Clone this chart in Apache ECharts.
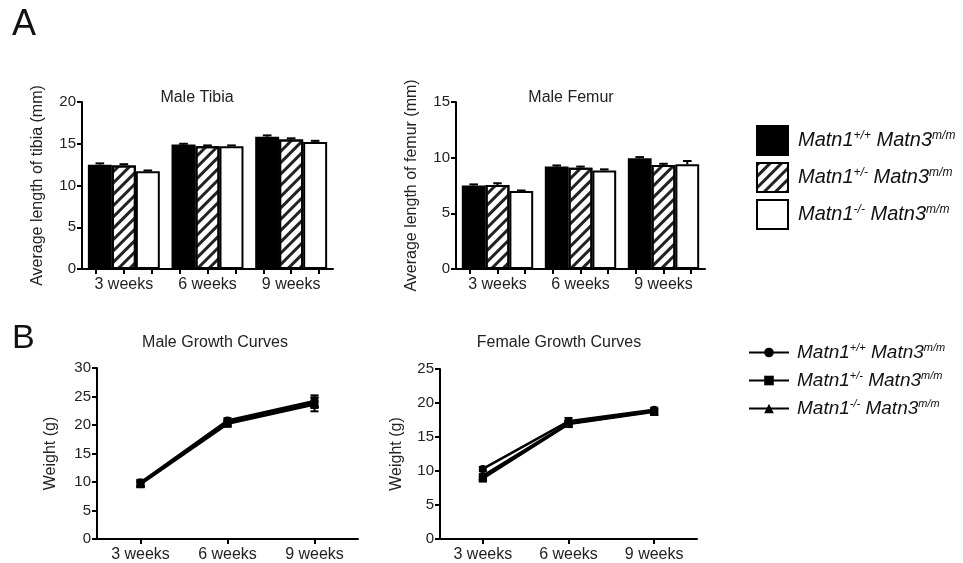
<!DOCTYPE html>
<html>
<head>
<meta charset="utf-8">
<script src="https://cdn.jsdelivr.net/npm/echarts@6/dist/echarts.min.js"></script>
<style>html,body{margin:0;padding:0;background:#fff}#c{width:963px;height:563px}</style>
</head>
<body>
<div id="c"></div>
<script>
// ---- data ----
var categories = ['3 weeks', '6 weeks', '9 weeks'];
var genotypes = ['+/+', '+/-', '-/-'];
var tibiaValues = [[12.5, 14.9, 15.85], [12.4, 14.7, 15.5], [11.7, 14.7, 15.2]];
var tibiaErrors = [[0.15, 0.1, 0.15], [0.15, 0.1, 0.15], [0.1, 0.1, 0.15]];
var femurValues = [[7.5, 9.2, 9.95], [7.55, 9.1, 9.35], [7.0, 8.85, 9.4]];
var femurErrors = [[0.1, 0.1, 0.1], [0.15, 0.1, 0.1], [0.05, 0.1, 0.3]];
var maleWeight = [[9.9, 20.8, 24.2], [9.6, 20.2, 23.6], [9.8, 20.5, 23.9]];
var maleErrors = [[0.5, 0.4, 1.0], [0.4, 0.4, 1.2], [0.5, 0.4, 0.9]];
var femaleWeight = [[10.3, 17.3, 19.0], [8.9, 16.9, 18.7], [9.3, 17.0, 18.8]];
var femaleErrors = [[0.3, 0.5, 0.3], [0.4, 0.4, 0.3], [0.3, 0.4, 0.3]];
var tibiaTicks = [0, 5, 10, 15, 20];
var femurTicks = [0, 5, 10, 15];
var maleTicks = [0, 5, 10, 15, 20, 25, 30];
var femaleTicks = [0, 5, 10, 15, 20, 25];

// ---- helpers ----
var FONT = 'Liberation Sans, Arial, sans-serif';
var GAP = 0.14;
function yAxis(grid, max, name, gap) {
  return {
    type: 'value', gridIndex: grid, min: 0, max: max, interval: 5,
    name: name, nameLocation: 'middle', nameGap: gap,
    nameTextStyle: { fontFamily: FONT, fontSize: 16, color: '#222' },
    axisLine: { show: true, lineStyle: { color: '#000', width: 2 } },
    axisTick: { show: true, length: 5, lineStyle: { color: '#000', width: 2 } },
    axisLabel: { fontFamily: FONT, fontSize: 15, color: '#222', margin: 6 },
    splitLine: { show: false }
  };
}
function xAxis(grid, ticks) {
  return {
    type: 'category', gridIndex: grid, data: categories,
    axisLine: { show: true, lineStyle: { color: '#000', width: 2 } },
    axisTick: { show: ticks, alignWithLabel: true, length: 5, lineStyle: { color: '#000', width: 2 } },
    axisLabel: { fontFamily: FONT, fontSize: 16, color: '#222', margin: 8 },
    splitLine: { show: false }
  };
}
function tickAxis(grid) {
  var d = [];
  for (var i = 0; i < categories.length * 3; i++) d.push(String(i));
  return {
    type: 'category', gridIndex: grid, data: d, position: 'bottom',
    axisLine: { show: false },
    axisTick: { show: true, alignWithLabel: true, length: 5, lineStyle: { color: '#000', width: 2 } },
    axisLabel: { show: false }, splitLine: { show: false }
  };
}
var barStyles = [
  { color: '#000', borderColor: '#000', borderWidth: 2 },
  { color: '#fff', borderColor: '#000', borderWidth: 2,
    decal: { symbol: 'rect', symbolSize: 1, dashArrayX: [1, 0], dashArrayY: [3, 5], rotation: -Math.PI / 4, color: '#222' } },
  { color: '#fff', borderColor: '#000', borderWidth: 2 }
];
var series = [];
function addBars(xi, yi, values, errors) {
  values.forEach(function (vals, k) {
    series.push({
      type: 'bar', name: 'A|' + genotypes[k], xAxisIndex: xi, yAxisIndex: yi,
      data: vals, barGap: '0%', barCategoryGap: (GAP * 100) + '%',
      itemStyle: barStyles[k], silent: true
    });
    var ed = vals.map(function (v, i) { return [i, v, errors[k][i]]; });
    series.push({
      type: 'custom', xAxisIndex: xi, yAxisIndex: yi, data: ed, silent: true, z: 1,
      renderItem: function (params, api) {
        var i = api.value(0), v = api.value(1), e = api.value(2);
        var catW = api.size([1, 0])[0];
        var bw = catW * (1 - GAP) / 3;
        var c0 = api.coord([i, v]);
        var c1 = api.coord([i, v + e]);
        var x = c0[0] + (k - 1) * bw;
        var cw = bw * 0.18;
        return { type: 'group', children: [
          { type: 'line', shape: { x1: x, y1: c0[1], x2: x, y2: c1[1] }, style: { stroke: '#000', lineWidth: 2 } },
          { type: 'line', shape: { x1: x - cw, y1: c1[1], x2: x + cw, y2: c1[1] }, style: { stroke: '#000', lineWidth: 2 } }
        ] };
      }
    });
  });
}
var lineSymbols = ['circle', 'rect', 'triangle'];
var lineSizes = [8, 8, 9];
function addLines(xi, yi, values, errors) {
  values.forEach(function (vals, k) {
    series.push({
      type: 'line', name: 'B|' + genotypes[k], xAxisIndex: xi, yAxisIndex: yi, data: vals,
      symbol: lineSymbols[k], symbolSize: lineSizes[k], showSymbol: true,
      lineStyle: { color: '#000', width: 2.5 }, itemStyle: { color: '#000' }, silent: true
    });
    var ed = vals.map(function (v, i) { return [i, v, errors[k][i]]; });
    series.push({
      type: 'custom', xAxisIndex: xi, yAxisIndex: yi, data: ed, silent: true,
      renderItem: function (params, api) {
        var i = api.value(0), v = api.value(1), e = api.value(2);
        var lo = api.coord([i, v - e]), hi = api.coord([i, v + e]);
        var cw = 4;
        return { type: 'group', children: [
          { type: 'line', shape: { x1: lo[0], y1: lo[1], x2: hi[0], y2: hi[1] }, style: { stroke: '#000', lineWidth: 2 } },
          { type: 'line', shape: { x1: hi[0] - cw, y1: hi[1], x2: hi[0] + cw, y2: hi[1] }, style: { stroke: '#000', lineWidth: 2 } },
          { type: 'line', shape: { x1: lo[0] - cw, y1: lo[1], x2: lo[0] + cw, y2: lo[1] }, style: { stroke: '#000', lineWidth: 2 } }
        ] };
      }
    });
  });
}
addBars(0, 0, tibiaValues, tibiaErrors);
addBars(2, 1, femurValues, femurErrors);
addLines(4, 2, maleWeight, maleErrors);
addLines(5, 3, femaleWeight, femaleErrors);

function legendFmt(name) {
  var g = name.split('|')[1];
  return '{m|Matn1}{s|' + g + '}{m| Matn3}{s|m/m}';
}
function rich(size) {
  var ss = Math.round(size * 0.6);
  return {
    m: { fontFamily: FONT, fontStyle: 'italic', fontSize: size, color: '#111', lineHeight: size + 2 },
    s: { fontFamily: FONT, fontStyle: 'italic', fontSize: ss, color: '#111', verticalAlign: 'top', lineHeight: ss + 1 }
  };
}
function titleAt(text, x, y, size) {
  return { text: text, left: x, top: y, textAlign: 'center', padding: 0,
    textStyle: { fontFamily: FONT, fontSize: size, fontWeight: 'normal', color: '#222' } };
}

var option = {
  animation: false,
  backgroundColor: '#fff',
  title: [
    { text: 'A', left: 12, top: 7, padding: 0, textStyle: { fontFamily: FONT, fontSize: 36, fontWeight: 'normal', color: '#111' } },
    { text: 'B', left: 12, top: 322, padding: 0, textStyle: { fontFamily: FONT, fontSize: 34, fontWeight: 'normal', color: '#111' } },
    titleAt('Male Tibia', 197, 90, 16),
    titleAt('Male Femur', 571, 90, 16),
    titleAt('Male Growth Curves', 215, 335, 16),
    titleAt('Female Growth Curves', 559, 335, 16)
  ],
  grid: [
    { left: 82, top: 102, width: 251, height: 167 },
    { left: 456, top: 102, width: 249, height: 167 },
    { left: 97, top: 368, width: 261, height: 172 },
    { left: 440, top: 369, width: 257, height: 170 }
  ],
  xAxis: [xAxis(0, false), tickAxis(0), xAxis(1, false), tickAxis(1), xAxis(2, true), xAxis(3, true)],
  yAxis: [
    yAxis(0, tibiaTicks[tibiaTicks.length - 1], 'Average length of tibia (mm)', 36),
    yAxis(1, femurTicks[femurTicks.length - 1], 'Average length of femur (mm)', 36),
    yAxis(2, maleTicks[maleTicks.length - 1], 'Weight (g)', 38),
    yAxis(3, femaleTicks[femaleTicks.length - 1], 'Weight (g)', 35)
  ],
  legend: [
    { data: genotypes.map(function (g) { return 'A|' + g; }), orient: 'vertical', left: 751, top: 120,
      itemWidth: 31, itemHeight: 29, itemGap: 6, icon: 'rect', selectedMode: false,
      formatter: legendFmt, textStyle: { rich: rich(20), padding: [0, 0, 0, 5] } },
    { data: genotypes.map(function (g) { return 'B|' + g; }), orient: 'vertical', left: 743, top: 337,
      itemWidth: 40, itemHeight: 12, itemGap: 8, selectedMode: false,
      formatter: legendFmt, textStyle: { rich: rich(19), padding: [0, 0, 0, 3] } }
  ],
  series: series
};
var chart = echarts.init(document.getElementById('c'), null, { renderer: 'canvas' });
chart.setOption(option);
</script>
</body>
</html>
